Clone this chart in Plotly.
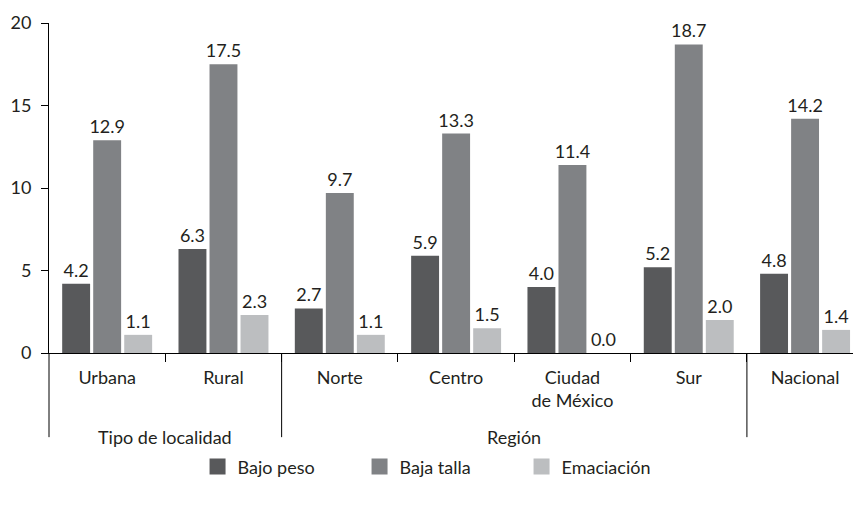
import plotly.graph_objects as go

categories = ["Urbana", "Rural", "Norte", "Centro", "Ciudad<br>de México", "Sur", "Nacional"]
bajo_peso = [4.2, 6.3, 2.7, 5.9, 4.0, 5.2, 4.8]
baja_talla = [12.9, 17.5, 9.7, 13.3, 11.4, 18.7, 14.2]
emaciacion = [1.1, 2.3, 1.1, 1.5, 0.0, 2.0, 1.4]
series_names = ["Bajo peso", "Baja talla", "Emaciación"]
series_colors = ["#58595b", "#808285", "#bcbec0"]
group_labels = ["Tipo de localidad", "Región"]
group_spans = [(0, 1), (2, 5)]
y_ticks = [0, 5, 10, 15, 20]

FONT = "Lato"
TXT = "#231f20"
FS = 18

xpos = list(range(len(categories)))
fig = go.Figure()
for name, vals, col in zip(series_names, [bajo_peso, baja_talla, emaciacion], series_colors):
    fig.add_trace(go.Bar(
        x=xpos, y=vals, name=name, marker=dict(color=col, line=dict(width=0)),
        text=[f"{v:.1f}" for v in vals], textposition="outside",
        textfont=dict(family=FONT, size=FS, color=TXT),
        constraintext="none", cliponaxis=False, showlegend=False,
    ))
    # legend proxies with larger squares
    fig.add_trace(go.Scatter(
        x=[None], y=[None], mode="markers", name=name,
        marker=dict(symbol="square", size=20, color=col),
    ))

sep_y = -0.255
shapes = []
for b in [group_spans[0][1] + 0.5, group_spans[1][1] + 0.5]:
    shapes.append(dict(type="line", xref="x", yref="paper", x0=b, x1=b, y0=0, y1=sep_y,
                       line=dict(color="black", width=1)))
shapes.append(dict(type="line", xref="paper", yref="paper", x0=0, x1=0, y0=0, y1=sep_y,
                   line=dict(color="black", width=1)))

annotations = []
for lab, (a, b) in zip(group_labels, group_spans):
    annotations.append(dict(x=(a + b) / 2, y=sep_y, xref="x", yref="paper", text=lab,
                            showarrow=False, yanchor="middle",
                            font=dict(family=FONT, size=FS, color=TXT)))

fig.update_layout(
    width=853, height=508,
    margin=dict(l=49, r=0, t=23, b=155),
    paper_bgcolor="white", plot_bgcolor="white",
    barmode="group", bargap=0.2, bargroupgap=0.1,
    font=dict(family=FONT, size=FS, color=TXT),
    showlegend=True,
    legend=dict(orientation="h", x=0.487, xanchor="center", y=-0.345, yanchor="middle",
                font=dict(family=FONT, size=FS, color=TXT), itemsizing="trace",
                traceorder="normal", entrywidth=117, entrywidthmode="pixels"),
    shapes=shapes, annotations=annotations,
    xaxis=dict(range=[-0.5, 6.412], tickmode="array", tickvals=xpos, ticktext=categories,
               ticks="", showline=True, linecolor="black", linewidth=1, showgrid=False,
               zeroline=False, ticklabelstandoff=8,
               tickfont=dict(family=FONT, size=FS, color=TXT),
               minor=dict(tickmode="array", tickvals=[i + 0.5 for i in xpos[:-1]],
                          ticks="outside", ticklen=8, tickcolor="black", tickwidth=1)),
    yaxis=dict(range=[0, 20], tickmode="array", tickvals=y_ticks, ticks="outside",
               ticklen=7, tickcolor="black", showline=True, linecolor="black", linewidth=1,
               showgrid=False, zeroline=False, ticklabelstandoff=6,
               tickfont=dict(family=FONT, size=FS, color=TXT)),
)

fig.write_html("out.html")
